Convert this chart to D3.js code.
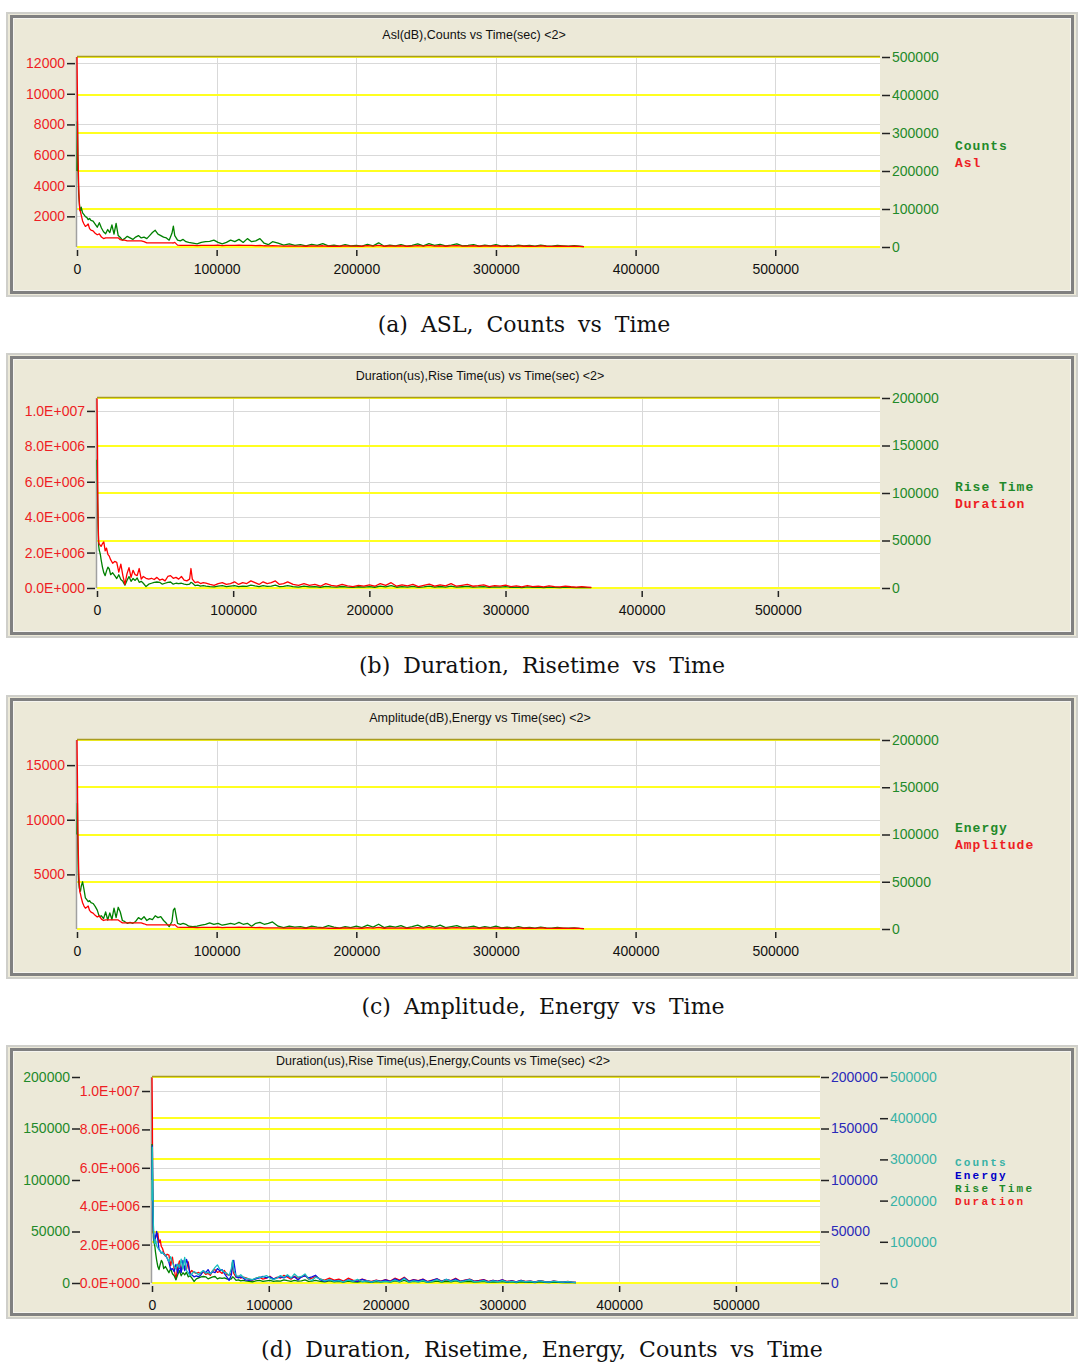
<!DOCTYPE html>
<html>
<head>
<meta charset="utf-8">
<title>AE parameters vs time</title>
<style>
  body { margin: 0; background: #fff; }
  svg { display: block; }
</style>
<script src="https://cdn.jsdelivr.net/npm/d3@7/dist/d3.min.js"></script>
</head>
<body>
<svg width="1088" height="1365"></svg>
<script>
// time bins (sec)
const time = [
  0, 300, 600, 900, 1200, 1600, 2000, 2500, 3000,
  4000, 5000, 6000, 7000, 8000, 9000, 10000,
  11500, 13000, 14500, 16000, 17500, 19000, 20500, 22000, 23500, 25000, 26500, 28000, 29500, 31000, 32500, 34000,
  36000, 38000, 40000, 42000, 44000, 46000, 48000, 50000, 52000, 54000, 56000, 58000, 60000, 62000, 64000, 66000, 68000,
  69000, 70000,
  72000, 74000, 76000, 78000, 80000,
  83000, 86000, 89000, 92000, 95000, 98000, 101000, 104000, 107000, 110000, 113000, 116000, 119000, 122000, 125000, 128000, 131000, 134000, 137000, 140000,
  144000, 148000, 152000, 156000, 160000, 164000, 168000, 172000, 176000, 180000, 184000, 188000, 192000, 196000, 200000,
  204000, 208000, 212000, 216000, 220000, 224000, 228000, 232000, 236000, 240000, 244000, 248000, 252000, 256000, 260000,
  264000, 268000, 272000, 276000, 280000, 284000, 288000, 292000, 296000, 300000, 304000, 308000, 312000, 316000, 320000,
  324000, 328000, 332000, 336000, 340000, 344000, 348000, 352000, 356000, 360000,
  363000
];

const counts = [
  200000, 330000, 260000, 180000, 140000, 120000, 100000, 95000, 105000,
  90000, 85000, 80000, 78000, 72000, 75000, 70000,
  68000, 60000, 52000, 64000, 50000, 40000, 35000, 46000, 38000, 58000, 34000, 62000, 30000, 25000, 18000, 22000,
  28000, 24000, 20000, 26000, 30000, 24000, 26000, 22000, 30000, 38000, 44000, 34000, 30000, 26000, 24000, 18000, 36000,
  55000, 30000,
  18000, 16000, 20000, 14000, 12000,
  10000, 8000, 12000, 14000, 15000, 18000, 12000, 8000, 12000, 18000, 14000, 20000, 12000, 22000, 14000, 16000, 22000, 10000, 6000, 14000,
  10000, 5000, 8000, 4000, 6000, 3000, 7000, 4000, 9000, 3000, 5000, 2000, 6000, 3000, 4000,
  2500, 7000, 3000, 11000, 2000, 5000, 3000, 6000, 2000, 4000, 8000, 3000, 9000, 4000, 7000,
  3000, 5000, 8000, 3000, 4000, 6000, 2000, 5000, 3000, 6000, 2500, 4000, 2000, 5000, 3000,
  4000, 2000, 5000, 3000, 2000, 4000, 3000, 2000, 3500, 2000,
  1000
];

const asl = [
  12400, 10000, 6000, 5300, 4000, 3000, 2400, 2300, 2100,
  1700, 1500, 1350, 1400, 1500, 1200, 1100,
  1050, 900, 800, 850, 650, 550, 600, 600, 600, 600, 600, 600, 600, 480, 450, 450,
  400, 400, 400, 400, 400, 400, 350, 270, 270, 270, 270, 270, 270, 270, 270, 270, 270,
  260, 300,
  120, 110, 110, 100, 100,
  100, 90, 100, 110, 100, 100, 120, 90, 100, 110, 100, 120, 100, 110, 100, 90, 110, 80, 70, 80,
  70, 60, 70, 60, 60, 50, 70, 60, 80, 50, 60, 50, 70, 60, 60,
  50, 90, 60, 110, 50, 70, 60, 80, 50, 60, 90, 60, 100, 60, 80,
  50, 70, 90, 60, 60, 80, 50, 70, 60, 80, 50, 60, 40, 70, 50,
  60, 40, 70, 50, 40, 60, 50, 40, 50, 40,
  30
];

const duration = [
  10700000, 8800000, 4900000, 3500000, 2600000, 2500000, 2450000, 2400000, 2350000,
  2500000, 2600000, 2100000, 2250000, 1900000, 1800000, 1600000,
  1400000, 1500000, 1450000, 900000, 1350000, 700000, 200000, 800000, 1150000, 600000, 1000000, 750000, 700000, 1100000, 500000, 650000,
  550000, 500000, 550000, 480000, 600000, 450000, 500000, 400000, 650000, 700000, 550000, 600000, 500000, 650000, 450000, 400000, 500000,
  1100000, 500000,
  300000, 350000, 250000, 300000, 280000,
  200000, 150000, 250000, 300000, 200000, 250000, 350000, 200000, 300000, 250000, 400000, 300000, 200000, 350000, 250000, 300000, 400000, 200000, 250000, 350000,
  200000, 150000, 250000, 150000, 200000, 100000, 250000, 150000, 100000, 200000, 120000, 80000, 150000, 100000, 180000,
  100000, 250000, 150000, 300000, 100000, 180000, 120000, 200000, 80000, 150000, 220000, 100000, 180000, 120000, 250000,
  100000, 150000, 200000, 100000, 130000, 180000, 80000, 140000, 100000, 160000, 80000, 120000, 60000, 140000, 80000,
  100000, 60000, 120000, 80000, 60000, 100000, 70000, 50000, 80000, 50000,
  30000
];

const riseTime = [
  135000, 110000, 80000, 60000, 45000, 40000, 38000, 35000, 30000,
  22000, 16000, 13000, 18000, 22000, 20000, 14000,
  16000, 13000, 10000, 14000, 9000, 7000, 3000, 8000, 12000, 7000, 10000, 8000, 10500, 6000, 7000, 5000,
  1500, 4000, 5000, 6000, 6300, 6000, 4000, 5000, 6000, 6300, 4000, 5000, 4500, 5000, 4000, 3500, 4000,
  6000, 5300,
  2500, 3000, 2000, 2500, 2000,
  1500, 1200, 2000, 2500, 1500, 2000, 2500, 1500, 2000, 1800, 3000, 2200, 1500, 2500, 1800, 2000, 3000, 1500, 1800, 2500,
  1500, 1000, 2000, 1200, 1500, 800, 1800, 1200, 900, 1600, 1000, 700, 1300, 900, 1500,
  800, 2000, 1200, 2500, 800, 1500, 1000, 1800, 700, 1200, 1900, 900, 1600, 1000, 2000,
  900, 1300, 1700, 900, 1100, 1500, 700, 1200, 900, 1400, 700, 1000, 500, 1200, 700,
  900, 500, 1000, 700, 500, 900, 600, 400, 700, 400,
  300
];

const amplitude = [
  17300, 14000, 9000, 7300, 5500, 4200, 3400, 3200, 2900,
  2400, 2100, 1900, 2000, 2100, 1700, 1550,
  1450, 1250, 1100, 1200, 900, 780, 830, 830, 830, 830, 830, 830, 830, 680, 560, 560,
  560, 560, 560, 560, 560, 560, 480, 380, 380, 380, 380, 380, 380, 380, 380, 380, 380,
  360, 400,
  170, 150, 150, 140, 140,
  140, 120, 140, 150, 140, 140, 170, 120, 140, 150, 140, 170, 140, 150, 140, 120, 150, 110, 100, 110,
  100, 80, 100, 80, 80, 70, 100, 80, 110, 70, 80, 70, 100, 80, 80,
  70, 120, 80, 150, 70, 100, 80, 110, 70, 80, 120, 80, 140, 80, 110,
  70, 100, 120, 80, 80, 110, 70, 100, 80, 110, 70, 80, 60, 100, 70,
  80, 60, 100, 70, 60, 80, 70, 60, 70, 60,
  40
];

const energy = [
  100000, 133000, 90000, 60000, 50000, 44000, 41000, 40000, 45000,
  50000, 42000, 33000, 31000, 29000, 30000, 28000,
  27000, 24000, 20000, 13000, 14000, 11000, 18000, 9500, 17000, 10000, 22000, 12000, 23000, 18000, 9000, 8000,
  6000, 7000, 6000, 8000, 12000, 10000, 13000, 9000, 11000, 10000, 14000, 12000, 13000, 9000, 6000, 2500, 8000,
  20000, 22000,
  6000, 5000, 6000, 5000, 3000,
  2500, 3000, 4000, 5000, 6500, 5000, 6000, 4000, 5000, 6000, 5000, 7000, 5000, 6000, 3000, 6000, 7000, 5000, 6000, 7500,
  3000, 1500, 3000, 2000, 2500, 1200, 3000, 2000, 1500, 3500, 2000, 1000, 2500, 1500, 3000,
  1500, 4000, 2000, 5000, 1500, 3000, 2000, 3500, 1200, 2500, 4000, 1500, 3500, 2000, 4000,
  1500, 2500, 3500, 1500, 2000, 3000, 1200, 2500, 1500, 3000, 1200, 2000, 1000, 2500, 1200,
  1800, 900, 2000, 1200, 900, 1800, 1000, 800, 1200, 700,
  500
];

// tick labels
const timeTicks = [0, 100000, 200000, 300000, 400000, 500000];
const aslTicks = [2000, 4000, 6000, 8000, 10000, 12000];
const countTicks = [0, 100000, 200000, 300000, 400000, 500000];
const durationTicks = [0, 2000000, 4000000, 6000000, 8000000, 10000000];
const riseTicks = [0, 50000, 100000, 150000, 200000];
const amplitudeTicks = [5000, 10000, 15000];
const energyTicks = [0, 50000, 100000, 150000, 200000];

const RED = '#ee1e24', GREEN = '#1f8a2a', BLUE = '#2a2ab8', CYAN = '#38b2a6';
const RED_L = '#ff0000', GREEN_L = '#008000', BLUE_L = '#0a14e0', CYAN_L = '#16bcbc';

const intFmt = d3.format('d');
const sciFmt = v => {
  if (v === 0) return '0.0E+000';
  const e = Math.floor(Math.log10(v));
  return (v / Math.pow(10, e)).toFixed(1) + 'E+' + String(e).padStart(3, '0');
};

const panels = [
  {
    frame: [7, 13, 1077, 296], plot: { l: 77, r: 880, t: 57, b: 247 }, xMax: 575000,
    title: 'Asl(dB),Counts vs Time(sec) <2>', titleX: 474, titleY: 39,
    axes: [
      { side: 'left', x: 75, max: 12400, ticks: aslTicks, fmt: intFmt, color: RED, grid: 'gray' },
      { side: 'right', x: 882, max: 500000, ticks: countTicks, fmt: intFmt, color: GREEN, grid: 'yellow' }
    ],
    series: [{ values: counts, axis: 1, color: GREEN_L }, { values: asl, axis: 0, color: RED_L }],
    legend: [['Counts', GREEN], ['Asl', RED]], legendY: 150, legendStep: 17, legendSize: 13, legendLs: 1,
    caption: '(a) ASL, Counts vs Time', captionX: 524, captionY: 332
  },
  {
    frame: [7, 354, 1077, 637], plot: { l: 97, r: 880, t: 398, b: 588 }, xMax: 575000,
    title: 'Duration(us),Rise Time(us) vs Time(sec) <2>', titleX: 480, titleY: 380,
    axes: [
      { side: 'left', x: 95, max: 10730000, ticks: durationTicks, fmt: sciFmt, color: RED, grid: 'gray' },
      { side: 'right', x: 882, max: 200000, ticks: riseTicks, fmt: intFmt, color: GREEN, grid: 'yellow' }
    ],
    series: [{ values: riseTime, axis: 1, color: GREEN_L }, { values: duration, axis: 0, color: RED_L }],
    legend: [['Rise Time', GREEN], ['Duration', RED]], legendY: 491, legendStep: 17, legendSize: 13, legendLs: 1,
    caption: '(b) Duration, Risetime vs Time', captionX: 542, captionY: 673
  },
  {
    frame: [7, 696, 1077, 978], plot: { l: 77, r: 880, t: 740, b: 929 }, xMax: 575000,
    title: 'Amplitude(dB),Energy vs Time(sec) <2>', titleX: 480, titleY: 722,
    axes: [
      { side: 'left', x: 75, max: 17300, ticks: amplitudeTicks, fmt: intFmt, color: RED, grid: 'gray' },
      { side: 'right', x: 882, max: 200000, ticks: energyTicks, fmt: intFmt, color: GREEN, grid: 'yellow' }
    ],
    series: [{ values: energy, axis: 1, color: GREEN_L }, { values: amplitude, axis: 0, color: RED_L }],
    legend: [['Energy', GREEN], ['Amplitude', RED]], legendY: 832, legendStep: 17, legendSize: 13, legendLs: 1,
    caption: '(c) Amplitude, Energy vs Time', captionX: 543, captionY: 1014
  },
  {
    frame: [7, 1046, 1077, 1318], plot: { l: 152, r: 820, t: 1077, b: 1283 }, xMax: 572000,
    title: 'Duration(us),Rise Time(us),Energy,Counts vs Time(sec) <2>', titleX: 443, titleY: 1065,
    axes: [
      { side: 'left', x: 80, max: 200000, ticks: riseTicks, fmt: intFmt, color: GREEN, grid: null },
      { side: 'left', x: 150, max: 10730000, ticks: durationTicks, fmt: sciFmt, color: RED, grid: 'gray' },
      { side: 'right', x: 821, max: 200000, ticks: energyTicks, fmt: intFmt, color: BLUE, grid: 'yellow' },
      { side: 'right', x: 880, max: 500000, ticks: countTicks, fmt: intFmt, color: CYAN, grid: 'yellow' }
    ],
    series: [
      { values: duration, axis: 1, color: RED_L },
      { values: riseTime, axis: 0, color: GREEN_L },
      { values: energy, axis: 2, color: BLUE_L },
      { values: counts, axis: 3, color: CYAN_L }
    ],
    legend: [['Counts', CYAN], ['Energy', '#0000c8'], ['Rise Time', GREEN], ['Duration', RED]],
    legendY: 1166, legendStep: 13, legendSize: 11, legendLs: 2.2,
    caption: '(d) Duration, Risetime, Energy, Counts vs Time', captionX: 542, captionY: 1357
  }
];

const svg = d3.select('svg');

panels.forEach((p, pi) => {
  const g = svg.append('g');
  const [fx0, fy0, fx1, fy1] = p.frame;
  const { l, r, t, b } = p.plot;

  // window frame
  g.append('rect').attr('x', fx0).attr('y', fy0).attr('width', fx1 - fx0).attr('height', fy1 - fy0)
    .attr('fill', '#ECE9D8').attr('stroke', '#cfcfca').attr('stroke-width', 2);
  g.append('rect').attr('x', fx0 + 4.5).attr('y', fy0 + 3.5).attr('width', fx1 - fx0 - 9).attr('height', fy1 - fy0 - 7)
    .attr('fill', 'none').attr('stroke', '#808080').attr('stroke-width', 3);
  g.append('rect').attr('x', fx0 + 6.5).attr('y', fy0 + 5.5).attr('width', fx1 - fx0 - 13).attr('height', fy1 - fy0 - 11)
    .attr('fill', 'none').attr('stroke', '#f5f4ef').attr('stroke-width', 1);

  g.append('text').attr('x', p.titleX).attr('y', p.titleY).attr('text-anchor', 'middle')
    .style('font', '12.5px "Liberation Sans", Arial, sans-serif').attr('fill', '#111').text(p.title);

  const x = d3.scaleLinear().domain([0, p.xMax]).range([l, r]);
  const ys = p.axes.map(a => d3.scaleLinear().domain([0, a.max]).range([b, t]));

  g.append('rect').attr('x', l).attr('y', t).attr('width', r - l).attr('height', b - t).attr('fill', '#fff');

  // gray grid
  p.axes.forEach((a, i) => {
    if (a.grid !== 'gray') return;
    g.selectAll(null).data(a.ticks.filter(v => v > 0)).join('line')
      .attr('x1', l).attr('x2', r).attr('y1', d => Math.round(ys[i](d)) + 0.5).attr('y2', d => Math.round(ys[i](d)) + 0.5)
      .attr('stroke', '#d9d9d9').attr('stroke-width', 1);
  });
  g.selectAll(null).data(timeTicks.filter(v => v > 0)).join('line')
    .attr('x1', d => Math.round(x(d)) + 0.5).attr('x2', d => Math.round(x(d)) + 0.5).attr('y1', t).attr('y2', b)
    .attr('stroke', '#d9d9d9').attr('stroke-width', 1);

  // yellow grid
  p.axes.forEach((a, i) => {
    if (a.grid !== 'yellow') return;
    g.selectAll(null).data(a.ticks).join('line')
      .attr('x1', l).attr('x2', r).attr('y1', d => Math.round(ys[i](d))).attr('y2', d => Math.round(ys[i](d)))
      .attr('stroke', '#ffff20').attr('stroke-width', 2);
  });

  g.append('line').attr('x1', l).attr('x2', r).attr('y1', t - 0.5).attr('y2', t - 0.5)
    .attr('stroke', '#a89c20').attr('stroke-width', 1.5);
  g.append('line').attr('x1', l - 0.5).attr('x2', l - 0.5).attr('y1', t).attr('y2', b)
    .attr('stroke', '#a0a0a0').attr('stroke-width', 1.5);

  // series
  const clipId = 'clip' + pi;
  g.append('clipPath').attr('id', clipId).append('rect')
    .attr('x', l - 1).attr('y', t - 1).attr('width', r - l + 2).attr('height', b - t + 2);
  p.series.forEach(s => {
    const y = ys[s.axis];
    const line = d3.line().x((d, i) => x(time[i])).y(d => y(d));
    g.append('path').datum(s.values).attr('d', line)
      .attr('fill', 'none').attr('stroke', s.color).attr('stroke-width', 1.3)
      .attr('stroke-linejoin', 'round').attr('clip-path', `url(#${clipId})`);
  });

  // y axes
  p.axes.forEach((a, i) => {
    const ax = (a.side === 'left' ? d3.axisLeft(ys[i]) : d3.axisRight(ys[i]))
      .tickValues(a.ticks).tickFormat(a.fmt).tickSize(8).tickPadding(2);
    const ag = g.append('g').attr('transform', `translate(${a.x},0)`).call(ax);
    ag.select('.domain').remove();
    ag.selectAll('line').attr('stroke', '#222').attr('stroke-width', 1.5);
    ag.selectAll('text').attr('fill', a.color).style('font', '14px "Liberation Sans", Arial, sans-serif');
  });

  // x axis
  const xa = g.append('g').attr('transform', `translate(0,${b + 3})`)
    .call(d3.axisBottom(x).tickValues(timeTicks).tickFormat(intFmt).tickSize(6).tickPadding(8));
  xa.select('.domain').remove();
  xa.selectAll('line').attr('stroke', '#222').attr('stroke-width', 1.5);
  xa.selectAll('text').attr('fill', '#111').style('font', '14px "Liberation Sans", Arial, sans-serif');

  // legend
  g.selectAll(null).data(p.legend).join('text')
    .attr('x', 955).attr('y', (d, i) => p.legendY + i * p.legendStep)
    .attr('fill', d => d[1])
    .style('font', `bold ${p.legendSize}px "Liberation Mono", "Courier New", monospace`)
    .style('letter-spacing', p.legendLs + 'px')
    .text(d => d[0]);

  // caption
  svg.append('text').attr('x', p.captionX).attr('y', p.captionY).attr('text-anchor', 'middle')
    .style('font', '22px "DejaVu Serif", serif').style('word-spacing', '6px')
    .attr('fill', '#111').text(p.caption);
});
</script>
</body>
</html>
